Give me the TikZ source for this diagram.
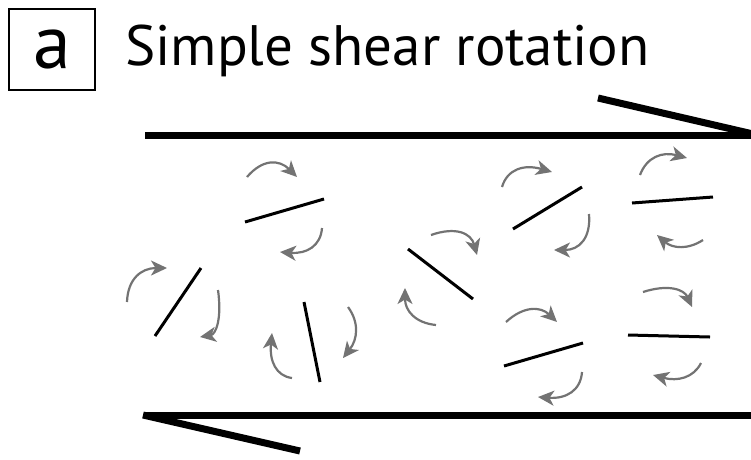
\documentclass[tikz,border=0pt]{standalone}
\usepackage{fontspec}
\setmainfont{PT Sans}
\usetikzlibrary{arrows.meta, positioning, calc}
\definecolor{turngray}{RGB}{115,115,115}
\tikzset{
    shearline/.style={line width=7pt},
    rod/.style={line width=3pt},
    turn/.style={turngray, line width=2.2pt, -{Stealth[length=16pt, width=15pt, inset=4.5pt]}},
    labelbox/.style={draw, line width=2.5pt, minimum width=86pt, minimum height=81pt, inner sep=0pt}
}

\begin{document}
\begin{tikzpicture}[x=1pt, y=-1pt]
    \useasboundingbox (0,0) rectangle (751,459);
    \clip (0,0) rectangle (751,459);

    \node[labelbox, font=\fontsize{76}{80}\selectfont] (label) at (52,49.5) {a};
    \node[anchor=base west, inner sep=0pt, font=\fontsize{57}{60}\selectfont] (title) at (125,65) {Simple shear rotation};

    \coordinate (topleft) at (145,135);
    \coordinate (topright) at (760,135);
    \coordinate (topbarb) at (598,98);
    \coordinate (topend) at (753,134);
    \coordinate (botleft) at (145,415);
    \coordinate (botright) at (760,415);
    \coordinate (botbarb) at (300,451);

    \draw[shearline] (topleft) -- (topright);
    \draw[shearline] (topbarb) -- (topend);
    \draw[shearline] (botleft) -- (botright);
    \draw[shearline] ($(botleft)+(-2,0)$) -- (botbarb);

    \foreach \ax/\ay/\bx/\by in {245/222/324/199, 155/336/201/268, 304/302/320/382,
        408/249/473/299, 513/229/582/187, 632/203/713/197, 504/366/583/343, 628/335/710/337}
        \draw[rod] (\ax,\ay) -- (\bx,\by);

    \foreach \sx/\sy/\cx/\cy/\tx/\ty in {247/177/270/150/297/177, 322/228/320/255/280/252,
        127/302/128/268/167/268, 218/290/224/333/200/337,
        292/378/268/375/272/333, 348/307/365/330/343/358,
        431/235/468/222/477/255, 436/325/405/322/405/288,
        502/187/510/160/552/172, 589/214/592/250/554/250,
        640/175/650/148/687/158, 703/240/680/255/657/235,
        506/322/532/298/557/322, 582/372/580/400/538/397,
        643/292/680/280/692/307, 701/363/690/385/653/375}
        \draw[turn] (\sx,\sy) .. controls ($(\sx,\sy)!0.667!(\cx,\cy)$) and ($(\tx,\ty)!0.667!(\cx,\cy)$) .. (\tx,\ty);
\end{tikzpicture}
\end{document}
